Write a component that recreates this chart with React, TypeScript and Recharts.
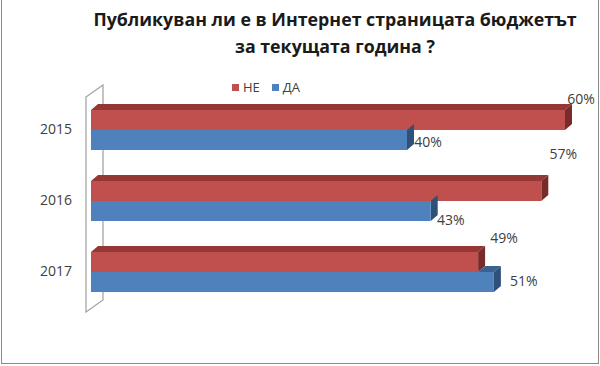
import React from "react";
import {
  BarChart,
  Bar,
  XAxis,
  YAxis,
  LabelList,
  ReferenceArea,
} from "recharts";

const years = ["2015", "2016", "2017"];
const ne = [60, 57, 49];
const da = [40, 43, 51];

const data = years.map((year, i) => ({ year, ne: ne[i], da: da[i] }));

const FONT = "'Open Sans', sans-serif";
const RED = "#C0504D";
const BLUE = "#4F81BD";

// excel-ish 3d: depth offset for bar tops / sides
const DX = 7;
const DY = 6;

// label offsets (excel placed them a bit randomly)
const neLabelOffset = [
  { dx: 16, dy: -12 },
  { dx: 22, dy: -28 },
  { dx: 26, dy: -15 },
];
const daLabelOffset = [
  { dx: 21, dy: 1 },
  { dx: 20, dy: 8 },
  { dx: 30, dy: -2 },
];

const RedBar = (props: any) => {
  const { x, y, width, height } = props;
  return (
    <g>
      <polygon
        points={`${x},${y} ${x + DX},${y - DY} ${x + width + DX},${y - DY} ${x + width},${y}`}
        fill="#953735"
      />
      <polygon
        points={`${x + width},${y} ${x + width + DX},${y - DY} ${x + width + DX},${y + height - DY} ${x + width},${y + height}`}
        fill="#772C2A"
      />
      <rect x={x} y={y} width={width} height={height} fill={RED} />
    </g>
  );
};

const BlueBar = (props: any) => {
  const { x, y, width, height, payload } = props;
  const end = x + width;
  // top face only shows where blue sticks out past the red bar
  const redEnd = x + (width * payload.ne) / payload.da;
  return (
    <g>
      {redEnd < end && (
        <polygon
          points={`${redEnd},${y} ${redEnd + DX},${y - DY} ${end + DX},${y - DY} ${end},${y}`}
          fill="#3A6190"
        />
      )}
      <polygon
        points={`${end},${y} ${end + DX},${y - DY} ${end + DX},${y + height - DY} ${end},${y + height}`}
        fill="#2F5179"
      />
      <rect x={x} y={y} width={width} height={height} fill={BLUE} />
    </g>
  );
};

const Wall = (props: any) => {
  const { x, y, height } = props;
  const b = y + height;
  return (
    <polygon
      points={`${x - 5},${y + 3} ${x + 12},${y - 9} ${x + 12},${b - 7} ${x - 5},${b + 5}`}
      fill="#fff"
      stroke="#A6A6A6"
      strokeWidth={1.3}
    />
  );
};

const makeLabel = (offsets: { dx: number; dy: number }[], fromTop: boolean) =>
  (props: any) => {
    const { x, y, width, height, value, index } = props;
    const o = offsets[index];
    const ly = fromTop ? y + o.dy : y + height / 2 + o.dy;
    return (
      <text
        x={x + width + o.dx}
        y={ly}
        textAnchor="middle"
        dominantBaseline="central"
        fontSize={14}
        fontFamily={FONT}
        fill="#404040"
      >
        {value}%
      </text>
    );
  };

const Legend2 = () => (
  <div
    style={{
      position: "absolute",
      top: 78,
      left: 232,
      display: "flex",
      alignItems: "center",
      fontFamily: FONT,
      fontSize: 13,
      color: "#404040",
    }}
  >
    <span style={{ width: 7, height: 7, background: RED, marginRight: 4 }} />
    <span style={{ marginRight: 12 }}>НЕ</span>
    <span style={{ width: 7, height: 7, background: BLUE, marginRight: 4 }} />
    <span>ДА</span>
  </div>
);

export default function App() {
  return (
    <div
      style={{
        position: "absolute",
        left: 0,
        top: 0,
        width: 600,
        height: 366,
        background: "#fff",
        overflow: "hidden",
      }}
    >
      <div
        style={{
          position: "absolute",
          left: 1,
          top: -2,
          width: 596,
          height: 365,
          borderLeft: "1px solid #8C8C8C",
          borderRight: "1px solid #8C8C8C",
          borderBottom: "1px solid #8C8C8C",
        }}
      />
      <div
        style={{
          position: "absolute",
          top: 6,
          left: 35,
          width: 600,
          textAlign: "center",
          fontFamily: FONT,
          fontWeight: "bold",
          fontSize: 17.8,
          lineHeight: "27px",
          color: "#1a1a1a",
        }}
      >
        Публикуван ли е в Интернет страницата бюджетът
        <br />
        за текущата година ?
      </div>
      <Legend2 />
      <BarChart
        width={600}
        height={366}
        data={data}
        layout="vertical"
        barSize={20}
        barGap={0}
        margin={{ top: 94, right: 35, bottom: 59, left: 0 }}
      >
        <XAxis type="number" domain={[0, 60]} hide />
        <YAxis
          type="category"
          dataKey="year"
          width={91}
          axisLine={false}
          tickLine={false}
          tick={{ fontSize: 14, fontFamily: FONT, fill: "#404040", dx: -11 }}
        />
        <ReferenceArea x1={0} x2={60} shape={<Wall />} />
        <Bar dataKey="ne" name="НЕ" shape={<RedBar />} isAnimationActive={false}>
          <LabelList dataKey="ne" content={makeLabel(neLabelOffset, true)} />
        </Bar>
        <Bar dataKey="da" name="ДА" shape={<BlueBar />} isAnimationActive={false}>
          <LabelList dataKey="da" content={makeLabel(daLabelOffset, false)} />
        </Bar>
      </BarChart>
    </div>
  );
}
